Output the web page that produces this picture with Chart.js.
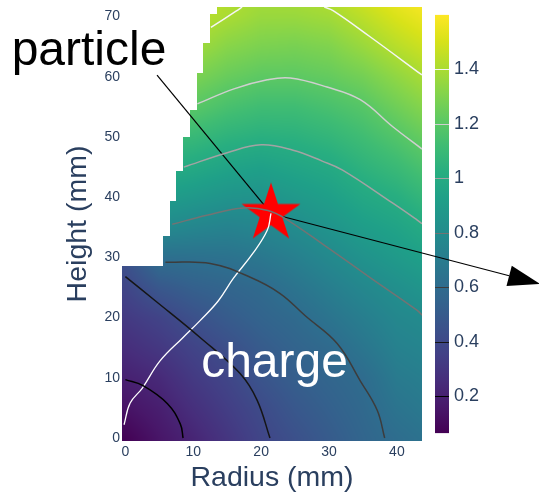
<!DOCTYPE html>
<html>
<head>
<meta charset="utf-8">
<script src="https://cdn.jsdelivr.net/npm/chart.js@4"></script>
<style>
  html, body { margin: 0; padding: 0; background: #fff; }
</style>
</head>
<body>
<canvas id="myChart" width="539" height="494"></canvas>
<script>
const htmlChart = document.getElementById('myChart');

// grid (mm), value per point
const radiusGrid = [0, 5, 10, 15, 20, 25, 30, 35, 40, 45];
const heightGrid = [0, 5, 10, 15, 20, 25, 30, 35, 40, 45, 50, 55, 60, 65, 70, 75];
const field = [
  [0.07, 0.15, 0.22, 0.30, 0.38, 0.44, 0.50, 0.56, 0.61, 0.65],
  [0.14, 0.19, 0.27, 0.34, 0.41, 0.48, 0.53, 0.58, 0.65, 0.69],
  [0.20, 0.24, 0.32, 0.38, 0.46, 0.52, 0.56, 0.60, 0.69, 0.72],
  [0.26, 0.31, 0.37, 0.43, 0.50, 0.55, 0.59, 0.66, 0.73, 0.76],
  [0.32, 0.37, 0.44, 0.50, 0.55, 0.59, 0.65, 0.71, 0.77, 0.80],
  [0.38, 0.48, 0.53, 0.56, 0.59, 0.65, 0.71, 0.77, 0.82, 0.87],
  [0.45, 0.62, 0.63, 0.64, 0.67, 0.72, 0.78, 0.84, 0.89, 0.94],
  [0.65, 0.79, 0.76, 0.74, 0.76, 0.80, 0.85, 0.91, 0.95, 1.01],
  [0.85, 0.91, 0.88, 0.85, 0.84, 0.88, 0.92, 0.98, 1.02, 1.09],
  [1.00, 1.02, 0.99, 0.95, 0.93, 0.96, 0.99, 1.05, 1.10, 1.17],
  [1.10, 1.10, 1.09, 1.05, 1.03, 1.04, 1.07, 1.12, 1.18, 1.25],
  [1.20, 1.18, 1.20, 1.15, 1.12, 1.12, 1.15, 1.19, 1.26, 1.33],
  [1.28, 1.26, 1.29, 1.24, 1.21, 1.21, 1.23, 1.27, 1.34, 1.41],
  [1.36, 1.34, 1.38, 1.32, 1.29, 1.28, 1.30, 1.36, 1.43, 1.49],
  [1.42, 1.40, 1.44, 1.40, 1.36, 1.36, 1.38, 1.44, 1.51, 1.57],
  [1.47, 1.46, 1.50, 1.44, 1.41, 1.42, 1.45, 1.52, 1.59, 1.64]
];

// stepped left edge of the filled region
const stepTops = [28.5, 33.5, 39.4, 44.4, 50, 54.5, 60.6, 65.7, 70.5];
const stepLeft = [-0.5, 5.5, 6.5, 7.5, 8.5, 9.5, 10.5, 11.5, 12.5, 13.5];

// contour lines
const levels = [0.2, 0.4, 0.6, 0.8, 1, 1.2, 1.4];
const contour02 = [[0, 9.7], [2.6, 8.7], [6.2, 5.7], [8.1, 2.3], [8.5, 0]];
const contour04 = [[0, 26.8], [4.4, 22.8], [11, 16.7], [16.9, 10.7], [19.4, 6.3], [21.3, 0]];
const contour06 = [[5.9, 29.2], [12.5, 29], [18.4, 26.7], [22.8, 24], [26.5, 20.3], [31.2, 15.7], [34.6, 9.5], [37.1, 4.6], [38.2, 0]];
const contour08 = [[6.9, 35.5], [12, 37], [17.4, 38.2], [21, 37.8], [23.5, 36.5], [29.7, 31.7], [36, 26.7], [43, 21.2], [43.7, 20.4]];
const contour10 = [[8.6, 45], [15, 47.4], [20, 48.7], [24.7, 47.8], [29, 46], [32, 44.5], [39.4, 39], [43, 36.2], [43.7, 35.6]];
const contour12 = [[10.6, 55.5], [16, 58], [20.9, 59.5], [24.3, 59.8], [29.7, 58.3], [34.6, 56.2], [39.4, 51.7], [43.7, 48]];
const contour14a = [[12.6, 68.2], [16.3, 70.9], [17.2, 71.6]];
const contour14b = [[29.3, 71.6], [30.6, 71], [36, 66.7], [43.7, 60.3]];

// particle track and position
const track = [[-0.2, 2.2], [0.7, 5.8], [2.5, 8.3], [5.1, 12.8], [8.5, 16.7], [11, 19.5], [13.7, 22.8], [15.9, 26.5], [18.8, 30.7], [20.9, 34.5], [21.45, 37.3]];
const particle = [21.45, 37.3];

const xTicks = [0, 10, 20, 30, 40];
const yTicks = [0, 10, 20, 30, 40, 50, 60, 70];
const cbTicks = [0.2, 0.4, 0.6, 0.8, 1, 1.2, 1.4];
const cMin = 0.064;
const cMax = 1.6;

// annotations (data coords)
const particleText = { x: -5.36, y: 61.96, text: 'particle' };
const particleTail = [4.66, 60.3];
const arrowTip = [61.1, 25.6];
const chargeText = { x: 21.97, y: 10.1, text: 'charge' };

// styles
const levelColors = ['#000000', '#151515', '#3c3c3c', '#737373', '#a3a3a3', '#cfcfcf', '#f5f5f5'];
const viridis = ['#440154', '#48186a', '#472d7b', '#424086', '#3b528b', '#33638d', '#2c728e', '#26828e',
  '#21918c', '#1fa088', '#28ae80', '#3fbc73', '#5ec962', '#84d44b', '#addc30', '#d8e219', '#fde725'];
const inkColor = '#2a3f5f';
const fontFam = '"Liberation Sans", Arial, sans-serif';

const viridisRGB = viridis.map(h => [parseInt(h.slice(1, 3), 16), parseInt(h.slice(3, 5), 16), parseInt(h.slice(5, 7), 16)]);

function colorFor(v) {
  let t = (v - cMin) / (cMax - cMin);
  t = Math.max(0, Math.min(1, t)) * (viridisRGB.length - 1);
  const i = Math.min(Math.floor(t), viridisRGB.length - 2);
  const f = t - i;
  const a = viridisRGB[i], b = viridisRGB[i + 1];
  return [a[0] + (b[0] - a[0]) * f, a[1] + (b[1] - a[1]) * f, a[2] + (b[2] - a[2]) * f];
}

function fieldAt(r, h) {
  let i = 0, j = 0;
  while (i < radiusGrid.length - 2 && r > radiusGrid[i + 1]) i++;
  while (j < heightGrid.length - 2 && h > heightGrid[j + 1]) j++;
  const tx = Math.max(0, Math.min(1, (r - radiusGrid[i]) / (radiusGrid[i + 1] - radiusGrid[i])));
  const ty = Math.max(0, Math.min(1, (h - heightGrid[j]) / (heightGrid[j + 1] - heightGrid[j])));
  const a = field[j][i], b = field[j][i + 1], c = field[j + 1][i], d = field[j + 1][i + 1];
  return (a * (1 - tx) + b * tx) * (1 - ty) + (c * (1 - tx) + d * tx) * ty;
}

function leftEdge(h) {
  for (let k = 0; k < stepTops.length; k++) {
    if (h < stepTops[k]) return stepLeft[k];
  }
  return stepLeft[stepLeft.length - 1];
}

function makeStar(R) {
  const c = document.createElement('canvas');
  const s = Math.ceil(R * 2 + 4);
  c.width = s; c.height = s;
  const g = c.getContext('2d');
  g.translate(s / 2, s / 2);
  g.beginPath();
  for (let k = 0; k < 10; k++) {
    const rr = k % 2 ? R * 0.382 : R;
    const a = -Math.PI / 2 + k * Math.PI / 5;
    g.lineTo(rr * Math.cos(a), rr * Math.sin(a));
  }
  g.closePath();
  g.fillStyle = '#ff0000';
  g.fill();
  return c;
}

const toPts = arr => arr.map(p => ({ x: p[0], y: p[1] }));

function contourSet(pts, level) {
  return {
    data: toPts(pts),
    borderColor: levelColors[levels.indexOf(level)],
    borderWidth: 1.5,
    pointRadius: 0,
    tension: 0.4,
    fill: false
  };
}

let heatImage = null;

const heatmapPlugin = {
  id: 'heatmap',
  beforeDraw(chart) {
    const c = chart.ctx;
    c.save();
    c.fillStyle = '#fff';
    c.fillRect(0, 0, chart.width, chart.height);
    c.restore();
  },
  beforeDatasetsDraw(chart) {
    const { ctx, chartArea: area, scales } = chart;
    const xs = scales.x, ys = scales.y;
    const w = Math.round(area.right - area.left), h = Math.round(area.bottom - area.top);
    if (!heatImage) {
      heatImage = document.createElement('canvas');
      heatImage.width = w; heatImage.height = h;
      const g = heatImage.getContext('2d');
      const img = g.createImageData(w, h);
      for (let py = 0; py < h; py++) {
        const hv = ys.getValueForPixel(area.top + py + 0.5);
        const lim = leftEdge(hv);
        for (let px = 0; px < w; px++) {
          const rv = xs.getValueForPixel(area.left + px + 0.5);
          const o = (py * w + px) * 4;
          if (rv < lim) { img.data[o + 3] = 0; continue; }
          const col = colorFor(fieldAt(rv, hv));
          img.data[o] = col[0]; img.data[o + 1] = col[1]; img.data[o + 2] = col[2]; img.data[o + 3] = 255;
        }
      }
      g.putImageData(img, 0, 0);
    }
    ctx.drawImage(heatImage, area.left, area.top);

    // colour bar
    const cb = scales.cb;
    const bx = cb.left + 13, bw = 14;
    const yTop = cb.getPixelForValue(cMax), yBot = cb.getPixelForValue(cMin);
    const grad = ctx.createLinearGradient(0, yBot, 0, yTop);
    viridis.forEach((col, k) => grad.addColorStop(k / (viridis.length - 1), col));
    ctx.fillStyle = grad;
    ctx.fillRect(bx, yTop, bw, yBot - yTop);
    levels.forEach((lv, k) => {
      const yy = Math.round(cb.getPixelForValue(lv)) + 0.5;
      ctx.strokeStyle = levelColors[k];
      ctx.lineWidth = 1;
      ctx.beginPath(); ctx.moveTo(bx, yy); ctx.lineTo(bx + bw, yy); ctx.stroke();
    });

    // arrows (under the star)
    const sx = xs.getPixelForValue(particle[0]), sy = ys.getPixelForValue(particle[1]);
    ctx.save();
    ctx.strokeStyle = '#000';
    ctx.lineWidth = 1.2;
    ctx.beginPath();
    ctx.moveTo(xs.getPixelForValue(particleTail[0]), ys.getPixelForValue(particleTail[1]));
    ctx.lineTo(sx, sy);
    ctx.stroke();
    const tx = xs.getPixelForValue(arrowTip[0]), ty = ys.getPixelForValue(arrowTip[1]);
    const ang = Math.atan2(ty - sy, tx - sx);
    const hl = 32, hw = 10.5;
    const bxp = tx - hl * Math.cos(ang), byp = ty - hl * Math.sin(ang);
    ctx.beginPath();
    ctx.moveTo(sx, sy);
    ctx.lineTo(bxp, byp);
    ctx.stroke();
    ctx.fillStyle = '#000';
    ctx.beginPath();
    ctx.moveTo(tx, ty);
    ctx.lineTo(bxp + hw * Math.sin(ang), byp - hw * Math.cos(ang));
    ctx.lineTo(bxp - hw * Math.sin(ang), byp + hw * Math.cos(ang));
    ctx.closePath();
    ctx.fill();
    ctx.restore();
  },
  afterDatasetsDraw(chart) {
    const { ctx, scales } = chart;
    ctx.save();
    ctx.textAlign = 'center';
    ctx.textBaseline = 'alphabetic';
    ctx.font = '48px ' + fontFam;
    ctx.fillStyle = '#000';
    ctx.fillText(particleText.text, scales.x.getPixelForValue(particleText.x), scales.y.getPixelForValue(particleText.y));
    ctx.fillStyle = '#fff';
    ctx.fillText(chargeText.text, scales.x.getPixelForValue(chargeText.x), scales.y.getPixelForValue(chargeText.y));
    ctx.restore();
  }
};

const datasets = [
  contourSet(contour02, 0.2),
  contourSet(contour04, 0.4),
  contourSet(contour06, 0.6),
  contourSet(contour08, 0.8),
  contourSet(contour10, 1),
  contourSet(contour12, 1.2),
  contourSet(contour14a, 1.4),
  contourSet(contour14b, 1.4),
  {
    data: toPts(track),
    borderColor: '#ffffff',
    borderWidth: 1.3,
    pointRadius: 0,
    tension: 0.4
  },
  {
    // star image drawn at the particle position
    data: [{ x: particle[0], y: particle[1] }],
    showLine: false,
    pointStyle: makeStar(31),
    pointRadius: 1,
    pointHoverRadius: 1,
    pointBorderWidth: 0
  }
];

// fixed axis boxes, no extra label padding pushed into the layout
function fixBox(size) {
  return s => {
    if (s.isHorizontal()) s.height = size; else s.width = size;
    s.paddingTop = 0; s.paddingBottom = 0; s.paddingLeft = 0; s.paddingRight = 0;
  };
}

const axisCommon = {
  type: 'linear',
  grid: { display: false, drawTicks: false },
  border: { display: false }
};

const config = {
  type: 'line',
  data: { datasets: datasets },
  plugins: [heatmapPlugin],
  options: {
    responsive: false,
    animation: false,
    layout: { autoPadding: false, padding: { top: 7, left: 0, right: 0, bottom: 0 } },
    plugins: { legend: { display: false }, tooltip: { enabled: false } },
    scales: {
      x: Object.assign({}, axisCommon, {
        position: 'bottom',
        min: -0.5, max: 43.7,
        afterBuildTicks: s => { s.ticks = xTicks.map(v => ({ value: v })); },
        afterFit: fixBox(53),
        ticks: { padding: 3, color: inkColor, font: { family: fontFam, size: 14 } },
        title: { display: true, text: 'Radius (mm)', color: inkColor, font: { family: fontFam, size: 28.5, lineHeight: 1 }, padding: { bottom: 2, top: 0 } }
      }),
      y: Object.assign({}, axisCommon, {
        position: 'left',
        min: -0.5, max: 71.6,
        afterBuildTicks: s => { s.ticks = yTicks.map(v => ({ value: v })); },
        afterFit: fixBox(122),
        ticks: { padding: 2, color: inkColor, font: { family: fontFam, size: 14 } },
        title: { display: true, text: 'Height (mm)', color: inkColor, font: { family: fontFam, size: 28.5, lineHeight: 1 }, padding: { top: 64, bottom: 0 } }
      }),
      cb: Object.assign({}, axisCommon, {
        position: 'right',
        min: 0.035, max: 1.629,
        afterBuildTicks: s => { s.ticks = cbTicks.map(v => ({ value: v })); },
        afterFit: fixBox(117),
        ticks: { padding: 32, color: inkColor, font: { family: fontFam, size: 18 }, callback: v => String(+v.toFixed(2)) }
      })
    }
  }
};

new Chart(htmlChart, config);
</script>
</body>
</html>
